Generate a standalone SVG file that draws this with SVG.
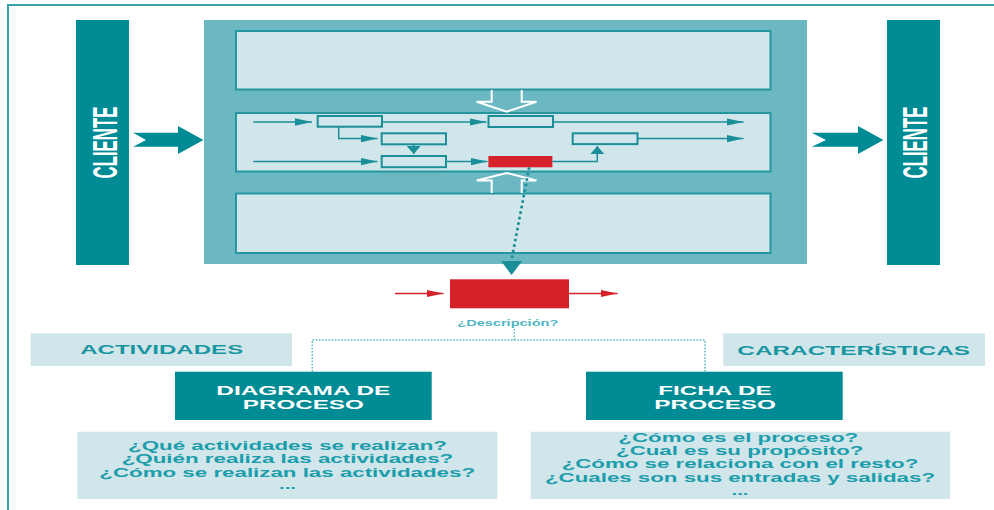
<svg xmlns="http://www.w3.org/2000/svg" width="994" height="510" viewBox="0 0 994 510">
  <style>
    .frame { fill: none; stroke: #35a1a8; stroke-width: 2; }
    .bar { fill: #008b95; }
    .panel { fill: #6bb8c2; }
    .lane { fill: #d0e6ea; stroke: #2396a0; stroke-width: 2; }
    .step { fill: #d0e6ea; stroke: #1a8f99; stroke-width: 2; }
    .hot { fill: #d4212a; }
    .flow { fill: none; stroke: #1a8f99; stroke-width: 1.5; }
    .hollow { fill: none; stroke: #ffffff; stroke-width: 2; stroke-linejoin: miter; }
    .big-arrow { fill: #008b95; }
    .red-flow { fill: none; stroke: #d4212a; stroke-width: 1.5; }
    .dots { fill: none; stroke: #1a8f99; stroke-width: 3.2; stroke-linecap: round; stroke-dasharray: 0 5.6; }
    .fine-dots { fill: none; stroke: #5bb8c4; stroke-width: 1.5; stroke-dasharray: 1.6 1.6; }
    .pale { fill: #d0e6ea; }
    .dark { fill: #008b95; }
    .t { font-family: "Liberation Sans", Arial, sans-serif; font-weight: bold; text-anchor: middle; }
    .client { fill: #ffffff; font-size: 20.5px; }
    .head { fill: #1a96a2; font-size: 13px; }
    .box-title { fill: #ffffff; font-size: 13px; }
    .ask { fill: #1b9dab; font-size: 12.5px; }
    .hint { fill: #4fb5c3; font-size: 8.5px; }
  </style>
  <defs>
    <marker id="tip" markerUnits="userSpaceOnUse" markerWidth="18" markerHeight="8" refX="17" refY="3.7" orient="auto">
      <path d="M0,0 L17,3.7 L0,7.4 z" fill="#1a8f99"/>
    </marker>
    <marker id="tri" markerUnits="userSpaceOnUse" markerWidth="9" markerHeight="15" refX="8" refY="7" orient="auto">
      <path d="M0,0 L8,7 L0,14 z" fill="#1a8f99"/>
    </marker>
    <marker id="drop" markerUnits="userSpaceOnUse" markerWidth="15" markerHeight="22" refX="0" refY="10.5" orient="90">
      <path d="M0,0 L14,10.5 L0,21 z" fill="#1a8f99"/>
    </marker>
    <marker id="red-tip" markerUnits="userSpaceOnUse" markerWidth="18" markerHeight="8" refX="17" refY="3.6" orient="auto">
      <path d="M0,0 L17,3.6 L0,7.2 z" fill="#d4212a"/>
    </marker>
  </defs>

  <!-- outer frame -->
  <path class="frame" d="M8,510 V5 H994"/>

  <!-- customer on the input side -->
  <g id="cliente-entrada">
    <rect class="bar" x="76" y="20" width="53" height="245"/>
    <text class="t client" transform="translate(116.7,142.5) scale(1.7,1) rotate(-90)" x="0" y="0" textLength="72" lengthAdjust="spacingAndGlyphs">CLIENTE</text>
  </g>

  <!-- customer on the output side -->
  <g id="cliente-salida">
    <rect class="bar" x="887" y="20" width="53" height="245"/>
    <text class="t client" transform="translate(926.7,142.5) scale(1.7,1) rotate(-90)" x="0" y="0" textLength="72" lengthAdjust="spacingAndGlyphs">CLIENTE</text>
  </g>

  <!-- process map with three lanes -->
  <g id="mapa-procesos">
    <rect class="panel" x="204" y="20" width="603" height="244"/>
    <rect class="lane" x="236" y="31" width="534.5" height="58.5"/>
    <rect class="lane" x="236" y="113" width="534.5" height="58.5"/>
    <rect class="lane" x="236" y="193.5" width="534.5" height="59.5"/>
  </g>

  <!-- steps inside the middle lane -->
  <g id="paso-1"><rect class="step" x="317.7" y="116" width="64.3" height="10.7"/></g>
  <g id="paso-2"><rect class="step" x="488.5" y="116" width="64.5" height="11"/></g>
  <g id="paso-3"><rect class="step" x="381.7" y="133.3" width="64.3" height="11"/></g>
  <g id="paso-4"><rect class="step" x="572.7" y="133.3" width="64.8" height="10.8"/></g>
  <g id="paso-5"><rect class="step" x="381.7" y="156" width="64.3" height="11.2"/></g>
  <g id="paso-destacado"><rect class="hot" x="488.4" y="156" width="64" height="11.3"/></g>

  <!-- highlighted process, drawn on its own -->
  <g id="proceso-detalle">
    <rect class="hot" x="450" y="279.3" width="119" height="29"/>
    <text class="t hint" x="507.8" y="325.7" textLength="101" lengthAdjust="spacingAndGlyphs">¿Descripción?</text>
  </g>

  <g id="actividades">
    <rect class="pale" x="30.7" y="333.3" width="261.3" height="32.7"/>
    <text class="t head" x="161.7" y="354" textLength="163" lengthAdjust="spacingAndGlyphs">ACTIVIDADES</text>
  </g>

  <g id="caracteristicas">
    <rect class="pale" x="723.3" y="333.3" width="261.7" height="32.7"/>
    <text class="t head" x="853.7" y="355" textLength="232.7" lengthAdjust="spacingAndGlyphs">CARACTERÍSTICAS</text>
  </g>

  <g id="diagrama-proceso">
    <rect class="dark" x="175" y="371.7" width="256.7" height="48.3"/>
    <text class="t box-title" x="303.3" y="394.6" textLength="174" lengthAdjust="spacingAndGlyphs">DIAGRAMA DE</text>
    <text class="t box-title" x="303.3" y="408.6" textLength="121" lengthAdjust="spacingAndGlyphs">PROCESO</text>
  </g>

  <g id="ficha-proceso">
    <rect class="dark" x="586" y="371.7" width="256.7" height="48.3"/>
    <text class="t box-title" x="715" y="394.6" textLength="113.3" lengthAdjust="spacingAndGlyphs">FICHA DE</text>
    <text class="t box-title" x="715.2" y="408.6" textLength="121.7" lengthAdjust="spacingAndGlyphs">PROCESO</text>
  </g>

  <g id="preguntas-diagrama">
    <rect class="pale" x="77.3" y="431.7" width="420" height="67.3"/>
    <text class="t ask" x="287.5" y="450" textLength="319" lengthAdjust="spacingAndGlyphs">¿Qué actividades se realizan?</text>
    <text class="t ask" x="287.5" y="463.3" textLength="331.6" lengthAdjust="spacingAndGlyphs">¿Quién realiza las actividades?</text>
    <text class="t ask" x="287.2" y="476.7" textLength="375.7" lengthAdjust="spacingAndGlyphs">¿Cómo se realizan las actividades?</text>
    <text class="t ask" x="287.5" y="489.3" textLength="17" lengthAdjust="spacingAndGlyphs">...</text>
  </g>

  <g id="preguntas-ficha">
    <rect class="pale" x="530.7" y="431.7" width="419.3" height="67.3"/>
    <text class="t ask" x="738.3" y="441.7" textLength="240" lengthAdjust="spacingAndGlyphs">¿Cómo es el proceso?</text>
    <text class="t ask" x="739.7" y="455" textLength="247.3" lengthAdjust="spacingAndGlyphs">¿Cual es su propósito?</text>
    <text class="t ask" x="740" y="468.3" textLength="356.7" lengthAdjust="spacingAndGlyphs">¿Cómo se relaciona con el resto?</text>
    <text class="t ask" x="740" y="481.7" textLength="390" lengthAdjust="spacingAndGlyphs">¿Cuales son sus entradas y salidas?</text>
    <text class="t ask" x="740" y="495" textLength="17" lengthAdjust="spacingAndGlyphs">...</text>
  </g>

  <g id="conectores">
    <!-- customer to process map and back -->
    <polygon class="big-arrow" points="133,132.7 178,132.7 178,126 203.5,140 178,154 178,146.7 133,146.7 146,140"/>
    <polygon class="big-arrow" points="811.7,132.7 858,132.7 858,126 883.5,140 858,154 858,146.7 811.7,146.7 826,140"/>

    <!-- inputs from the upper and lower lanes -->
    <path class="hollow" d="M491.7,90 V101.7 H476.7 L506.7,111.7 L536.5,101.7 H521.7 V90"/>
    <path class="hollow" d="M491.7,193 V180.5 H476.7 L506.7,173 L536.5,180.5 H521.7 V193"/>

    <!-- flow between steps -->
    <path class="flow" d="M253.3,122 H312" marker-end="url(#tip)"/>
    <path class="flow" d="M382,122 H486.5" marker-end="url(#tip)"/>
    <path class="flow" d="M553,122 H743.5" marker-end="url(#tip)"/>
    <path class="flow" d="M338.7,126.7 V138.6 H377.5" marker-end="url(#tip)"/>
    <path class="flow" d="M637.5,138.6 H743.5" marker-end="url(#tip)"/>
    <path class="flow" d="M253.3,161.6 H377.5" marker-end="url(#tip)"/>
    <path class="flow" d="M446,161.6 H487.5" marker-end="url(#tip)"/>
    <path class="flow" d="M413.7,144.3 V154" marker-end="url(#tri)"/>
    <path class="flow" d="M552.4,161.6 H597.3 V146" marker-end="url(#tri)"/>

    <!-- zoom from the highlighted step to its detail -->
    <path class="dots" d="M529,168.5 L511.6,259.5"/>
    <path d="M511.6,261 V261.1" fill="none" stroke="none" marker-end="url(#drop)"/>

    <!-- input and output of the detailed process -->
    <path class="red-flow" d="M395,293.5 H443.5" marker-end="url(#red-tip)"/>
    <path class="red-flow" d="M569,293.5 H617.5" marker-end="url(#red-tip)"/>

    <!-- description split into both views -->
    <path class="fine-dots" d="M514.3,329 V340"/>
    <path class="fine-dots" d="M312.3,371.7 V340 H705 V371.7"/>
  </g>
</svg>
